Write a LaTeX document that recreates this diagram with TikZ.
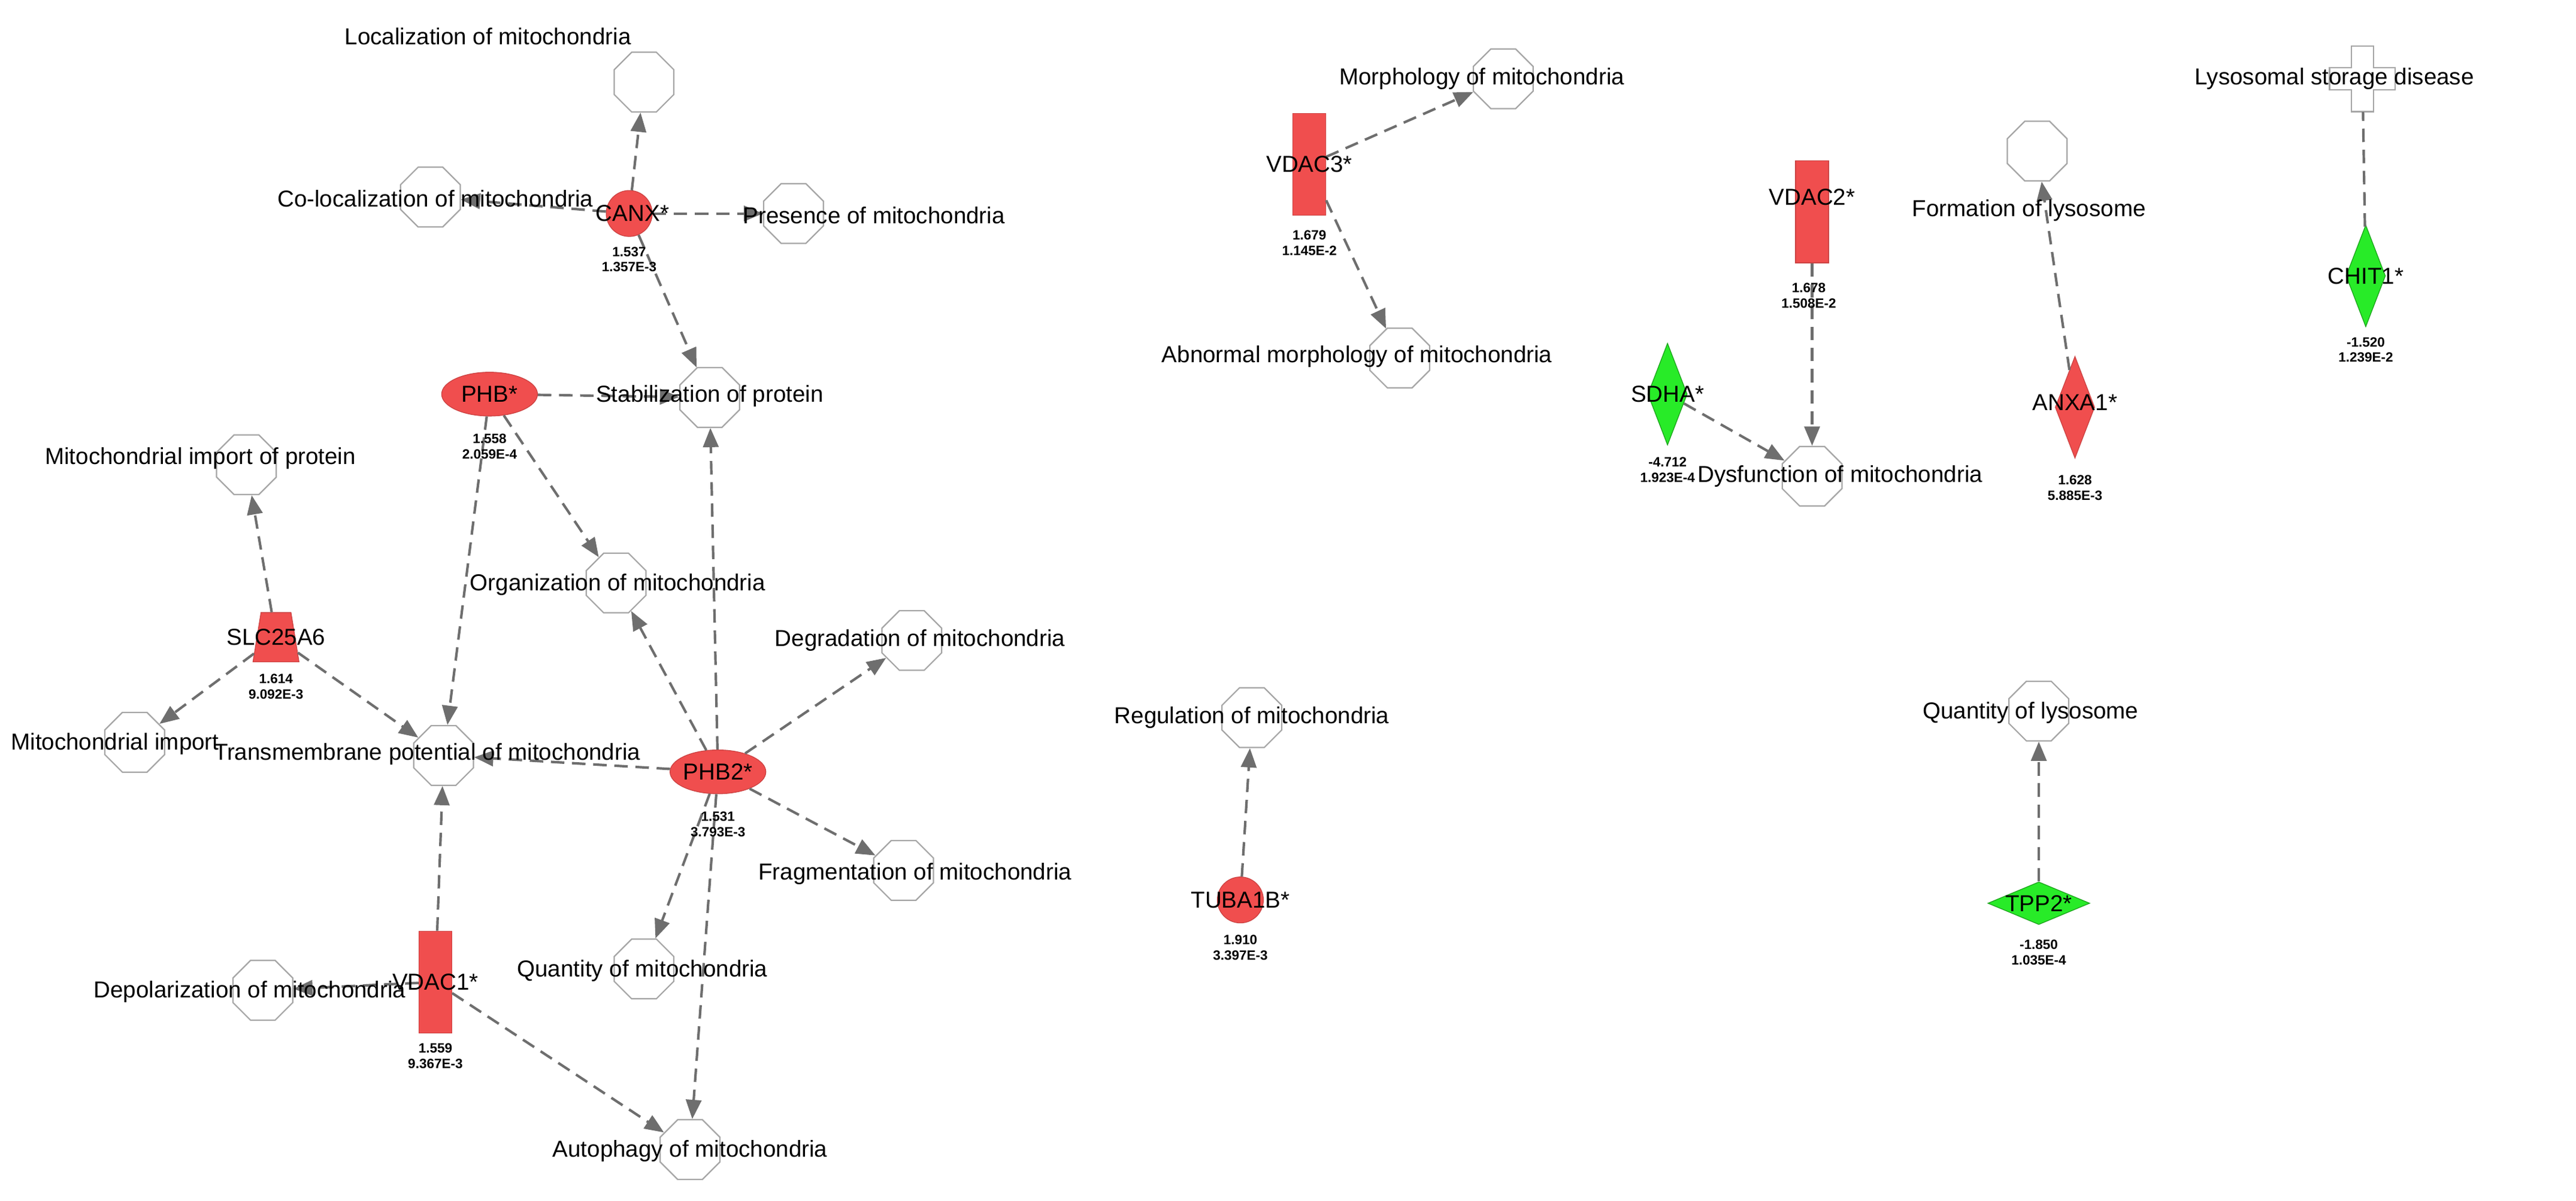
\documentclass[tikz,border=0pt]{standalone}
\usepackage{fontspec}
\setmainfont{Liberation Sans}
\usetikzlibrary{shapes.geometric, arrows.meta}
\definecolor{upred}{RGB}{240,78,78}
\definecolor{dngreen}{RGB}{40,235,40}
\definecolor{edgegray}{RGB}{110,110,110}
\tikzset{fn/.style={draw=gray!70, line width=0.7pt, regular polygon, regular polygon sides=8, minimum size=1.18cm, inner sep=0pt},
	fnlbl/.style={font=\fontsize{12}{13}\selectfont, inner sep=0pt},
	glbl/.style={font=\fontsize{12}{13}\selectfont, inner sep=0pt},
	val/.style={font=\bfseries\fontsize{7}{8}\selectfont, align=center, inner sep=0pt},
	up/.style={fill=upred, draw=upred!85!black, inner sep=0pt},
	down/.style={fill=dngreen, draw=dngreen!70!black, inner sep=0pt},
	gcircle/.style={circle, minimum size=0.84cm},
	gellipse/.style={ellipse, minimum width=1.75cm, minimum height=0.8cm},
	grect/.style={rectangle, minimum width=0.6cm, minimum height=1.86cm},
	gdiamond/.style={diamond, minimum width=0.72cm, minimum height=1.86cm},
	rel/.style={draw=edgegray, line width=1.3pt, dash pattern=on 7pt off 4pt, -{Triangle[length=10pt, width=8pt]}},
	link/.style={draw=edgegray, line width=1.3pt, dash pattern=on 7pt off 4pt}}
\begin{document}
\begin{tikzpicture}[x=0.03cm, y=-0.03cm]
	\useasboundingbox (0,0) rectangle (1568,731);

	% functions
	\node[fn] (loc) at (392,50) {};
	\node[fn] (coloc) at (262,120) {};
	\node[fn] (pres) at (483,130) {};
	\node[fn] (stab) at (432,242) {};
	\node[fn] (mip) at (150,283) {};
	\node[fn] (org) at (375,355) {};
	\node[fn] (deg) at (555,390) {};
	\node[fn] (mimp) at (82,452) {};
	\node[fn] (tmp) at (270,460) {};
	\node[fn] (frag) at (550,530) {};
	\node[fn] (qty) at (392,590) {};
	\node[fn] (dep) at (160,603) {};
	\node[fn] (aut) at (420,700) {};
	\node[fn] (morph) at (915,48) {};
	\node[fn] (abn) at (852,218) {};
	\node[fn] (dys) at (1103,290) {};
	\node[fn] (form) at (1240,92) {};
	\node[fn] (reg) at (762,437) {};
	\node[fn] (qlys) at (1241,433) {};
	\node[minimum size=1.2cm] (lsd) at (1438,48) {};
	\draw[draw=gray!70, line width=0.7pt] ([shift={(-0.2cm,0.6cm)}]lsd.center) -- ++(0.4cm,0) -- ++(0,-0.4cm) -- ++(0.4cm,0)
		-- ++(0,-0.4cm) -- ++(-0.4cm,0) -- ++(0,-0.4cm) -- ++(-0.4cm,0) -- ++(0,0.4cm) -- ++(-0.4cm,0)
		-- ++(0,0.4cm) -- ++(0.4cm,0) -- cycle;

	% genes
	\node[up, gcircle] (canx) at (383,130) {};
	\node[up, gellipse] (phb) at (298,240) {};
	\node[up, trapezium, trapezium angle=75, inner sep=1pt, minimum width=0.84cm, minimum height=0.9cm, trapezium stretches=true] (slc) at (168,388) {};
	\node[up, gellipse] (phbb) at (437,470) {};
	\node[up, grect] (vdaca) at (265,598) {};
	\node[up, grect] (vdacc) at (797,100) {};
	\node[up, grect] (vdacb) at (1103,129) {};
	\node[down, gdiamond] (sdha) at (1015,240) {};
	\node[up, gdiamond] (anxa) at (1263,248) {};
	\node[down, gdiamond] (chit) at (1440,168) {};
	\node[up, gcircle] (tuba) at (755,548) {};
	\node[down, diamond, minimum width=1.86cm, minimum height=0.78cm] (tpp) at (1241,550) {};

	% connectors
	\foreach \s/\t in {canx/loc, canx/coloc, canx/pres, canx/stab, phb/stab, phb/org, phb/tmp,
		slc/mip, slc/mimp, slc/tmp, phbb/org, phbb/stab, phbb/deg, phbb/frag, phbb/qty, phbb/aut,
		phbb/tmp, vdaca/tmp, vdaca/dep, vdaca/aut, vdacc/morph, vdacc/abn, vdacb/dys, sdha/dys,
		anxa/form, tuba/reg, tpp/qlys}
		\draw[rel] (\s) -- (\t);
	\draw[link] (chit) -- (lsd);

	% function labels
	\node[fnlbl] (loc-t) at (297,22) {Localization of mitochondria};
	\node[fnlbl] (coloc-t) at (265,121) {Co-localization of mitochondria};
	\node[fnlbl] (pres-t) at (532,131) {Presence of mitochondria};
	\node[fnlbl] (stab-t) at (432,241) {Stabilization of protein};
	\node[fnlbl] (mip-t) at (122,279) {Mitochondrial import of protein};
	\node[fnlbl] (org-t) at (376,356) {Organization of mitochondria};
	\node[fnlbl] (deg-t) at (560,390) {Degradation of mitochondria};
	\node[fnlbl] (mimp-t) at (70,453) {Mitochondrial import};
	\node[fnlbl] (tmp-t) at (260,459) {Transmembrane potential of mitochondria};
	\node[fnlbl] (frag-t) at (557,532) {Fragmentation of mitochondria};
	\node[fnlbl] (qty-t) at (391,591) {Quantity of mitochondria};
	\node[fnlbl] (dep-t) at (152,604) {Depolarization of mitochondria};
	\node[fnlbl] (aut-t) at (420,701) {Autophagy of mitochondria};
	\node[fnlbl] (morph-t) at (902,48) {Morphology of mitochondria};
	\node[fnlbl] (abn-t) at (826,217) {Abnormal morphology of mitochondria};
	\node[fnlbl] (dys-t) at (1120,290) {Dysfunction of mitochondria};
	\node[fnlbl] (form-t) at (1235,128) {Formation of lysosome};
	\node[fnlbl] (reg-t) at (762,437) {Regulation of mitochondria};
	\node[fnlbl] (qlys-t) at (1236,434) {Quantity of lysosome};
	\node[fnlbl] (lsd-t) at (1421,48) {Lysosomal storage disease};

	% gene labels and values
	\node[glbl] (canx-t) at (385,130) {CANX*};
	\node[val] (canx-v) at (383,158) {1.537\\1.357E-3};
	\node[glbl] (phb-t) at (298,240) {PHB*};
	\node[val] (phb-v) at (298,272) {1.558\\2.059E-4};
	\node[glbl] (slc-t) at (168,388) {SLC25A6};
	\node[val] (slc-v) at (168,418) {1.614\\9.092E-3};
	\node[glbl] (phbb-t) at (437,470) {PHB2*};
	\node[val] (phbb-v) at (437,502) {1.531\\3.793E-3};
	\node[glbl] (vdaca-t) at (265,598) {VDAC1*};
	\node[val] (vdaca-v) at (265,643) {1.559\\9.367E-3};
	\node[glbl] (vdacc-t) at (797,100) {VDAC3*};
	\node[val] (vdacc-v) at (797,148) {1.679\\1.145E-2};
	\node[glbl] (vdacb-t) at (1103,120) {VDAC2*};
	\node[val] (vdacb-v) at (1101,180) {1.678\\1.508E-2};
	\node[glbl] (sdha-t) at (1015,240) {SDHA*};
	\node[val] (sdha-v) at (1015,286) {-4.712\\1.923E-4};
	\node[glbl] (anxa-t) at (1263,245) {ANXA1*};
	\node[val] (anxa-v) at (1263,297) {1.628\\5.885E-3};
	\node[glbl] (chit-t) at (1440,168) {CHIT1*};
	\node[val] (chit-v) at (1440,213) {-1.520\\1.239E-2};
	\node[glbl] (tuba-t) at (755,548) {TUBA1B*};
	\node[val] (tuba-v) at (755,577) {1.910\\3.397E-3};
	\node[glbl] (tpp-t) at (1241,550) {TPP2*};
	\node[val] (tpp-v) at (1241,580) {-1.850\\1.035E-4};
\end{tikzpicture}
\end{document}
